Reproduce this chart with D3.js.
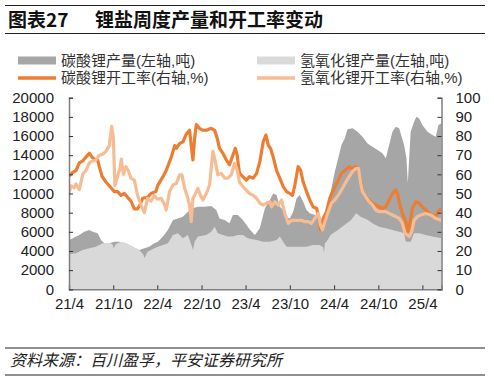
<!DOCTYPE html>
<html><head><meta charset="utf-8">
<script src="https://cdn.jsdelivr.net/npm/d3@7"></script>
<style>
html,body{margin:0;padding:0;background:#fff;}
svg{display:block;}
</style></head>
<body>
<svg id="chart" width="494" height="377"></svg>
<script>
// ---- data: [week since 2021-04-01, value] ----
const startDate = new Date(2021, 3, 1);
const totalWeeks = 220;
const xTickLabels = ["21/4","21/10","22/4","22/10","23/4","23/10","24/4","24/10","25/4"];
const leftTicks = [0,2000,4000,6000,8000,10000,12000,14000,16000,18000,20000];
const rightTicks = [0,10,20,30,40,50,60,70,80,90,100];
const seriesNames = ["碳酸锂产量(左轴,吨)","氢氧化锂产量(左轴,吨)","碳酸锂开工率(右轴,%)","氢氧化锂开工率(右轴,%)"];

const carbonateOutput = [[0,5150],[2.2,5320],[6.1,5670],[9,6020],[12,6190],[14,6020],[16.9,5840],[18.9,5150],[20.9,4800],[23.8,4800],[26.8,4970],[29.7,4970],[33.6,4800],[37.6,4450],[41.5,4100],[44.5,4280],[47.4,4450],[50.4,4800],
[52.5,4970],[55.5,5500],[58.4,6190],[61.4,7230],[64.3,7400],[67.3,7580],[70.2,8100],[73.2,8450],[76.1,8630],[80.1,8630],[84,8700],[87,8280],[88.9,7400],[91.9,7230],[94.8,6890],[96.8,7760],[99.7,7760],[102.7,7230],[105.6,6540],
[107,6190],[109.8,5670],[112.7,6370],[115.7,8450],[118.6,9320],[120.6,10000],[122.6,9840],[124.5,8630],[126.5,8280],[128.5,7580],[130.4,7400],[132.4,8100],[134.4,9500],[136.3,9840],[138.3,9150],[140.3,8280],[142.2,7930],[145.2,7760],[147.2,7400],[149.1,7060],[151.1,7580],[153.1,8800],[155,10540],[157,12280],[159,13670],[160.9,15060],[162.9,15760],
[164.5,16700],[167.4,16800],[170.4,16450],[173.3,15930],[176.3,15230],[179.2,14890],[182.2,14540],[185.1,14190],[187.1,13670],[189.1,15060],[191,16450],[193,16970],[195,16800],[197.9,15060],[199.3,13670],[200.1,11060],[200.9,13670],[201.8,16450],[203.8,17500],[205.2,18020],[206.8,17840],[208.7,17150],[211.7,16450],[214.6,16100],[216.6,15930],[218.2,17150],[220,17320]];

const hydroxideOutput = [[0,3650],[4.1,3760],[8.1,4100],[12,4280],[15.9,4450],[19.9,4800],[23.8,4870],[25.7,4700],[26.4,4280],[27.7,4730],[30.7,4970],[33.6,4800],[37.6,4450],[41.5,4100],[44,3600],[44.5,3230],[46.4,3930],[50.4,4280],
[52.5,4450],[55.5,4630],[58.4,4800],[61.4,5670],[64.3,5840],[67.3,5320],[70.2,5670],[72.6,4500],[73.2,4100],[74.2,4970],[76.1,5500],[81.1,5670],[84,6020],[86,6540],[87.9,5840],[90.9,5670],[93.8,5500],[96.8,5500],[99.7,5670],[102.7,5670],[105.6,5320],
[107.5,5250],[110.8,5150],[114.7,4970],[118.6,4970],[122.6,5150],[124.5,5500],[126.5,4970],[128.5,4450],[132.4,4450],[136.3,4450],[140.3,4450],[144.2,4630],[148.1,4630],[150.1,4400],[150.6,3800],[151.1,4800],[152.1,4970],[154.6,5700],[158.8,6190],[162.7,6710],[166.6,7230],[169.6,7930],[172.3,7580],[176.5,7230],[179.2,6890],[183.2,6540],[187.1,6370],[191,6190],[195,6020],[197.9,5840],[198.9,4970],[201.8,4970],[203.8,5840],[206.8,5840],[210.7,5670],[214.6,5500],[220,5320]];

const carbonateRate = [[0,59],[2.2,61],[4.1,62],[6.1,66],[8.1,67],[10,69],[12,71],[13.6,69],[14.9,68],[16.9,67.5],[17.9,64],[19.5,59],[21.8,56],[24.8,53],[26.8,51],[28.7,51],[30.7,49],[32.7,50],[34.6,48],[36.6,46],[38.6,42],[40.5,42],[41.9,44],[43.5,47.5],[46.4,48],[48.4,50],[51.3,51],
[52.5,54.4],[55.5,58.8],[57.4,62],[60.4,69],[62.4,75],[63.4,73.6],[65.3,76],[67.3,77],[69.3,81],[71.2,83],[72.2,75],[73.2,67.5],[74.2,79],[75.2,86],[77.1,84],[79.1,83],[81.1,83],[84,84],[86,83],[87.5,79],[88.9,73.6],[90.9,71],[92.9,67.5],[94.8,65],[96.8,70],[98.2,73.6],[99.3,70],[100.7,60.5],[102.7,58.8],[104.7,57],[106.6,58.8],
[108.8,58],[110.8,60.5],[112.7,66.6],[114.7,77],[116.3,80.5],[117.7,75.3],[119,73.6],[120.6,69],[122.6,62],[124.5,58],[126.5,53.6],[128.5,51],[130.4,50],[132,49],[133.4,54.4],[135.3,64],[136.7,62.3],[138.3,56],[140.3,51],[142.2,46.6],[144.2,43],[146.2,42.3],[147.7,37],[148.5,31],[150.1,37],[152.1,40.5],[154,47.5],[156,51.8],[157.6,54.4],[159,57],[160.9,60.5],[162.9,62],
[165.5,64],[167.4,63],[169.4,64],[171.4,61.4],[173.3,51],[175.3,48.3],[177.3,46.6],[179.2,44.9],[181.2,44],[183.2,43],[185.1,42.3],[187.1,43],[189.1,46.6],[191,50],[193,51.8],[194,50],[195.4,44],[196.9,39.6],[198.9,35.3],[200.1,30],[201.3,34.4],[202.8,42.3],[204.8,45.7],[206.8,45],[208.7,43],[210.7,41.4],[212.7,39.6],[214.6,38.8],[216.6,37.9],[218,40.5],[220,42.3]];

const hydroxideRate = [[0,50],[1.2,54],[3.1,53],[4.1,55],[6.1,52],[8.1,60],[10,62],[12,66],[14,67],[15.9,67.5],[17.9,70],[19.9,70.5],[21.8,72],[23.8,75],[25.2,85],[26.2,79],[27.1,54],[28.7,59],[30.1,63],[30.9,68],[32.1,60],[33.6,64],[35,62],[36.6,58],[38.6,57],[40.5,49],[42.5,44],[44.5,40],[46.4,47.5],[48.4,46],[50.4,49],[52.3,47],
[54.5,47.5],[56.5,44],[57.4,41.4],[59.4,51],[61.4,54.4],[63.4,55.3],[65.3,59.7],[66.7,59.7],[68.3,52.7],[70.2,47.5],[71.2,44],[72.2,35.3],[73.2,47.5],[74.2,49],[76.1,52.7],[77.7,49],[79.1,46.6],[81.1,50],[83,54.4],[85,72],[86.4,66.6],[87.9,59.7],[89.9,60.5],[91.9,58],[93.8,58],[95.8,59.7],[97.8,65.7],[99.3,62.3],[100.7,56],[102.7,53.6],[104.7,51.8],[106.6,50],
[108.8,49],[110.8,47.5],[112.7,45],[114.7,44],[116.7,45],[118.6,45.7],[119.6,43],[121.6,45.7],[123.6,44],[125.5,46.6],[127.5,39.6],[129.5,34.4],[131.4,36],[134.4,36],[137.3,36],[139.3,35.3],[141.3,35.3],[143.2,34.4],[145.2,37],[147.2,39.6],[148.5,33.6],[149.7,31],[151.1,35.3],[153.1,40.5],[155,45],[157,46.6],[159,49],[160.9,51.8],[162.9,55],
[165.5,58.8],[167.4,61.4],[169.4,63],[171,63],[172.3,55.3],[173.3,51],[175.3,48.3],[177.3,45.7],[179.2,44],[181.2,41.4],[183.2,40.5],[185.1,40.5],[187.1,40.5],[189.1,39.6],[191,38.8],[193,37.9],[195,37],[196.9,34.4],[198.5,29.2],[200.9,27.5],[202.4,30],[203.8,36],[205.8,37.9],[207.7,38.8],[210.7,39.6],[213.7,38.8],[216.6,37],[220,36]];

// ---- styles ----
const C_DARK = "#a6a6a6", C_LIGHT = "#d9d9d9", C_ORANGE = "#ed7d31", C_PEACH = "#f6bc94";
const FONT_NUM = "'Liberation Sans', Arial, sans-serif";
const FONT_CJK = "'Noto Sans CJK SC', 'Noto Sans', sans-serif";
const FONT_LEG = "'Liberation Sans', 'Noto Sans CJK SC', sans-serif";

const svg = d3.select("#chart");
const L = 69, R = 441.5, T = 97.7, B = 289.3;
const wkDate = w => new Date(startDate.getTime() + w * 7 * 86400000);
const x = d3.scaleTime().domain([startDate, wkDate(totalWeeks)]).range([L, R]);
const yL = d3.scaleLinear().domain([0, 20000]).range([B, T]);
const yR = d3.scaleLinear().domain([0, 100]).range([B, T]);

// title
svg.append("line").attr("x1",5).attr("x2",485).attr("y1",5.5).attr("y2",5.5).attr("stroke","#222").attr("stroke-width",1.2);
svg.append("line").attr("x1",5).attr("x2",485).attr("y1",33.5).attr("y2",33.5).attr("stroke","#222").attr("stroke-width",1.2);
svg.append("text").attr("x",8).attr("y",26.5).attr("font-family",FONT_CJK).attr("font-weight","bold").attr("font-size",19).attr("fill","#111").text("图表27");
svg.append("text").attr("x",95).attr("y",26.5).attr("font-family",FONT_CJK).attr("font-weight","bold").attr("font-size",19).attr("fill","#111").text("锂盐周度产量和开工率变动");

// legend
const leg = [
  {name: seriesNames[0], type:"rect", color:C_DARK, lx:18, ly:60.5},
  {name: seriesNames[1], type:"rect", color:C_LIGHT, lx:257, ly:60.5},
  {name: seriesNames[2], type:"line", color:C_ORANGE, lx:18, ly:78},
  {name: seriesNames[3], type:"line", color:C_PEACH, lx:257, ly:78}
];
leg.forEach(d => {
  if (d.type === "rect") svg.append("rect").attr("x",d.lx).attr("y",d.ly-4).attr("width",38).attr("height",8).attr("fill",d.color);
  else svg.append("line").attr("x1",d.lx).attr("x2",d.lx+38).attr("y1",d.ly).attr("y2",d.ly).attr("stroke",d.color).attr("stroke-width",3.5);
  svg.append("text").attr("x",d.lx+43).attr("y",d.ly).attr("dy","0.36em").attr("font-family",FONT_LEG).attr("font-size",15).attr("fill","#333").text(d.name);
});

// plot
const g = svg.append("g");
svg.append("clipPath").attr("id","pc").append("rect").attr("x",L).attr("y",T-20).attr("width",R-L).attr("height",B-T+20);
const plot = g.append("g").attr("clip-path","url(#pc)");

const area = d3.area().x(d => x(wkDate(d[0]))).y0(yL(0)).y1(d => yL(d[1]));
plot.append("path").datum(carbonateOutput).attr("d",area).attr("fill",C_DARK);
plot.append("path").datum(hydroxideOutput).attr("d",area).attr("fill",C_LIGHT);
const lineR = d3.line().x(d => x(wkDate(d[0]))).y(d => yR(d[1]));
plot.append("path").datum(carbonateRate).attr("d",lineR).attr("fill","none").attr("stroke",C_ORANGE).attr("stroke-width",3.2).attr("stroke-linejoin","round");
plot.append("path").datum(hydroxideRate).attr("d",lineR).attr("fill","none").attr("stroke",C_PEACH).attr("stroke-width",3.2).attr("stroke-linejoin","round");

// axes
const axisColor = "#7f7f7f";
const tickDates = xTickLabels.map(s => { const [yy, mm] = s.split("/").map(Number); return new Date(2000+yy, mm-1, 1); });
const xAxis = d3.axisBottom(x).tickValues(tickDates).tickSize(-4).tickPadding(9).tickFormat((d,i) => xTickLabels[i]);
const gx = g.append("g").attr("transform",`translate(0,${B})`).call(xAxis);
const yAxisL = d3.axisLeft(yL).tickValues(leftTicks).tickSize(-4).tickPadding(15).tickFormat(d3.format("d"));
const gyl = g.append("g").attr("transform",`translate(${L},0)`).call(yAxisL);
const yAxisR = d3.axisRight(yR).tickValues(rightTicks).tickSize(-4).tickPadding(14).tickFormat(d3.format("d"));
const gyr = g.append("g").attr("transform",`translate(${R},0)`).call(yAxisR);
[gx, gyl, gyr].forEach(a => {
  a.select(".domain").attr("stroke",axisColor).attr("stroke-width",1.5);
  a.selectAll(".tick line").attr("stroke","#333").attr("stroke-width",1);
  a.selectAll("text").attr("font-family",FONT_NUM).attr("font-size",15).attr("fill","#222");
});
gx.selectAll(".tick text").attr("dy","0.71em");
gx.select(".tick line").remove();

// source
svg.append("line").attr("x1",5).attr("x2",485).attr("y1",348).attr("y2",348).attr("stroke","#222").attr("stroke-width",1.2);
svg.append("line").attr("x1",5).attr("x2",485).attr("y1",375).attr("y2",375).attr("stroke","#222").attr("stroke-width",1.2);
svg.append("text").attr("x",10).attr("y",366).attr("font-family",FONT_CJK).attr("font-style","italic").attr("font-size",16).attr("fill","#222").text("资料来源：百川盈孚，平安证券研究所");
</script>
</body></html>
